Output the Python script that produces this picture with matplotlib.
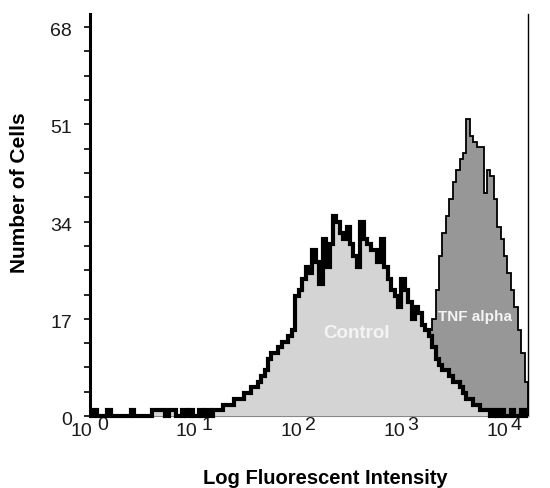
import matplotlib
matplotlib.use("Agg")
import matplotlib.pyplot as plt
import numpy as np
from matplotlib.transforms import offset_copy

plt.rcParams["font.family"] = ["Liberation Sans", "DejaVu Sans"]

# 32 channels per decade, 10^0 .. 10^4
DECADES = [0, 1, 2, 3, 4]
CHANNELS_PER_DECADE = 32

control_counts = [
    0, 1, 0, 0, 0, 1, 0, 0,
    0, 0, 0, 0, 1, 0, 0, 0,
    0, 0, 1, 1, 1, 1, 0, 1,
    1, 0, 0, 1, 0, 1, 0, 0,
    1, 0, 1, 0, 1, 1, 1, 2,
    2, 2, 3, 3, 3, 4, 4, 5,
    5, 6, 7, 8, 10, 11, 11, 12,
    13, 13, 14, 15, 21, 22, 24, 26,
    25, 29, 27, 23, 31, 26, 30, 35,
    34, 32, 31, 33, 30, 28, 26, 34,
    31, 30, 29, 29, 27, 31, 26, 24,
    22, 21, 19, 24, 22, 20, 17, 19,
    18, 16, 15, 14, 12, 10, 9, 8,
    8, 7, 6, 6, 5, 4, 3, 3,
    2, 2, 1, 1, 1, 0, 1, 0,
    1, 0, 0, 1, 0, 0, 1, 0,
]

tnf_counts = [0] * 80 + [
    0, 0, 0, 0, 1, 1, 1, 1,
    1, 1, 1, 2, 3, 4, 5, 6,
    8, 10, 13, 15, 17, 22, 28, 32,
    35, 38, 41, 43, 45, 46, 52, 49,
    48, 47, 47, 39, 43, 42, 38, 33,
    31, 28, 25, 22, 19, 15, 11, 6,
]

y_ticks = [0, 17, 34, 51, 68]
y_tick_labels = ["0", "17", "34", "51", "68"]

CONTROL_FILL = "#d4d4d4"
TNF_FILL = "#979797"


def main():
    edges = np.linspace(DECADES[0], DECADES[-1], len(control_counts) + 1)

    fig = plt.figure(figsize=(5.5, 4.89), dpi=100)
    ax = fig.add_axes([0.1636, 0.1472, 0.7964, 0.8221])

    # TNF behind, control in front
    ax.stairs(tnf_counts, edges, fill=True, color=TNF_FILL, zorder=1)
    ax.stairs(tnf_counts, edges, fill=False, color="black", lw=1.3, zorder=2)
    ax.stairs(control_counts, edges, fill=True, color=CONTROL_FILL, zorder=3)
    ax.stairs(control_counts, edges, fill=False, color="black", lw=3.0,
              zorder=4, clip_on=False)

    ax.set_xlim(DECADES[0], DECADES[-1])
    ax.set_ylim(0, 70.3)

    ax.spines["top"].set_visible(False)
    ax.spines["left"].set_linewidth(2.2)
    ax.spines["right"].set_linewidth(1.0)
    ax.spines["bottom"].set_linewidth(0.8)
    ax.spines["bottom"].set_color("#888888")

    ax.set_xticks([])
    ax.set_yticks(y_ticks, labels=[""] * len(y_ticks))
    ax.set_yticks(np.arange(0, 68, 4.25), minor=True)
    ax.tick_params(axis="y", which="both", direction="out", length=4,
                   width=1.2, left=True, right=False)

    # y tick labels
    for val, lab in zip(y_ticks, y_tick_labels):
        tr = offset_copy(ax.get_yaxis_transform(), fig, x=-18, y=-3.5, units="dots")
        ax.text(0, val, lab, transform=tr, ha="right", va="center",
                fontsize=14, color="#1a1a1a")

    # x tick labels as "10" with raised exponent
    base_dx = [-9, -13.5, -18, -24.5, -30.5]
    exp_dx = [13, 7, 1, -5.5, -12]
    for k, d in enumerate(DECADES):
        tr10 = offset_copy(ax.get_xaxis_transform(), fig, x=base_dx[k], y=-14.7, units="dots")
        ax.text(d, 0, "10", transform=tr10, ha="center", va="center",
                fontsize=14, color="#1a1a1a")
        trexp = offset_copy(ax.get_xaxis_transform(), fig, x=exp_dx[k], y=-8.3, units="dots")
        ax.text(d, 0, str(d), transform=trexp, ha="center", va="center",
                fontsize=14, color="#1a1a1a")

    fig.text(20 / 550, 1 - 193 / 489, "Number of Cells", rotation=90,
             ha="center", va="center", fontsize=15, fontweight="bold")
    fig.text(325.5 / 550, 1 - 479 / 489, "Log Fluorescent Intensity",
             ha="center", va="center", fontsize=14.5, fontweight="bold")

    ax.text(2.43, 14.6, "Control", ha="center", va="center", fontsize=13.5,
            fontweight="bold", color="#f4f4f4", zorder=5)
    ax.text(3.516, 17.5, "TNF alpha", ha="center", va="center", fontsize=11,
            fontweight="bold", color="#f4f4f4", zorder=5)

    fig.savefig("out.png", dpi=100)
    plt.close(fig)


if __name__ == "__main__":
    main()
